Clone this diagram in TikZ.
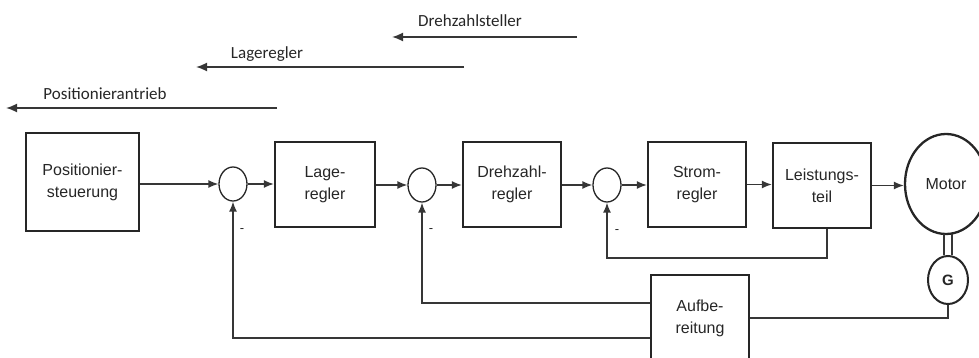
\documentclass[tikz,border=0pt]{standalone}
\usepackage{fontspec}
\setmainfont{Liberation Sans}
\newfontfamily\calfont{Carlito}
\usetikzlibrary{shapes.geometric,arrows.meta}
\definecolor{ink}{HTML}{262626}
\definecolor{lineink}{HTML}{363636}
\tikzset{
  blk/.style={draw=ink, line width=2.3pt, rectangle, align=center, inner sep=0pt,
    font=\fontsize{16}{22}\selectfont, text=ink},
  sumpt/.style={draw=ink, line width=1.3pt, ellipse, minimum width=28pt, minimum height=34pt, inner sep=0pt},
  arr/.style={draw=lineink, line width=1.5pt, -{Latex[length=10pt,width=8pt]}},
  ln/.style={draw=lineink, line width=1.5pt},
  toparr/.style={draw=lineink, line width=1.7pt, -{Latex[length=11pt,width=9pt]}},
  toplab/.style={font=\calfont\fontsize{17}{20}\selectfont, text=ink, inner sep=0pt},
  minus/.style={font=\fontsize{13}{13}\selectfont, text=ink, inner sep=0pt}
}
\begin{document}
\begin{tikzpicture}[x=1pt,y=-1pt]
\useasboundingbox (0,0) rectangle (979,358);
\clip (0,0) rectangle (979,358);
% top arrows
\coordinate (d1) at (577,37); \coordinate (d2) at (392,37);
\coordinate (l1) at (464,67); \coordinate (l2) at (196,67);
\coordinate (p1) at (277,108); \coordinate (p2) at (6,108);
\draw[toparr] (d1) -- (d2);
\draw[toparr] (l1) -- (l2);
\draw[toparr] (p1) -- (p2);
\node[toplab] (tdreh) at (470,21) {Drehzahlsteller};
\node[toplab] (tlage) at (267,54) {Lageregler};
\node[toplab] (tpos) at (105,94) {Positionierantrieb};
% blocks
\node[blk, minimum width=113pt, minimum height=98pt] (pos) at (82.5,182) {Positionier-\\steuerung};
\node[sumpt] (s1) at (233,184) {};
\node[blk, minimum width=100pt, minimum height=85pt] (lage) at (325,184.5) {Lage-\\regler};
\node[sumpt] (s2) at (422,185) {};
\node[blk, minimum width=98pt, minimum height=85pt] (dreh) at (512,184.5) {Drehzahl-\\regler};
\node[sumpt] (s3) at (607,185) {};
\node[blk, minimum width=98pt, minimum height=85pt] (strom) at (697,184.5) {Strom-\\regler};
\node[blk, minimum width=98pt, minimum height=85pt] (leist) at (822,185.5) {Leistungs-\\teil};
\node[draw=ink, line width=2.3pt, ellipse, minimum width=82pt, minimum height=100pt, inner sep=0pt,
  font=\fontsize{16}{22}\selectfont, text=ink] (motor) at (946,184) {Motor};
\node[draw=ink, line width=2pt, ellipse, minimum width=40pt, minimum height=48pt, inner sep=0pt,
  font=\bfseries\fontsize{15}{18}\selectfont, text=ink] (gen) at (948,280) {G};
\node[blk, minimum width=98pt, minimum height=86pt] (aufb) at (700,318) {Aufbe-\\reitung};
% forward path
\draw[arr] (pos.east |- s1.west) -- (s1.west);
\draw[arr] (s1.east) -- (lage.west |- s1.east);
\draw[arr] (lage.east |- s2.west) -- (s2.west);
\draw[arr] (s2.east) -- (dreh.west |- s2.east);
\draw[arr] (dreh.east |- s3.west) -- (s3.west);
\draw[arr] (s3.east) -- (strom.west |- s3.east);
\draw[arr] (strom.east) -- (leist.west |- strom.east);
\draw[arr] (leist.east) -- (motor.west |- leist.east);
% shaft
\draw[ln] ([xshift=-4pt]gen.north) -- ([xshift=-4pt,yshift=1pt]gen.north |- motor.south);
\draw[ln] ([xshift=4pt]gen.north) -- ([xshift=4pt,yshift=1pt]gen.north |- motor.south);
% feedbacks
\draw[arr] ([xshift=5pt]leist.south) -- ++(0,29) -| (s3.south);
\draw[arr] ([yshift=15pt]aufb.west) -| (s2.south);
\draw[arr] ([yshift=-20pt]aufb.west) -| (s1.south);
\draw[ln] (aufb.east) -| (gen.south);
% minus signs
\node[minus] (m1) at (242,231) {-};
\node[minus] (m2) at (431,231) {-};
\node[minus] (m3) at (617,232) {-};
\end{tikzpicture}
\end{document}
